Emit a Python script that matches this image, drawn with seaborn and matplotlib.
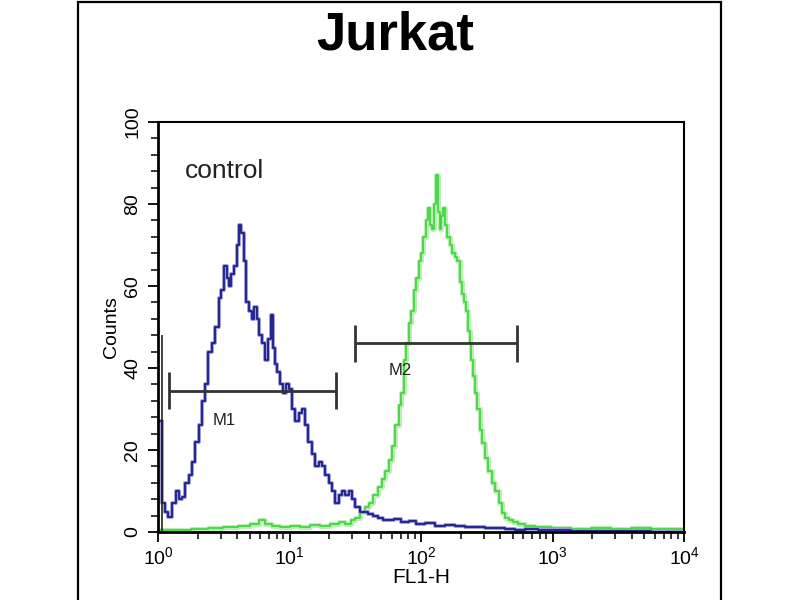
import numpy as np
import pandas as pd
import seaborn as sns
import matplotlib.pyplot as plt
from matplotlib.patches import Rectangle
from matplotlib.ticker import LogLocator, MultipleLocator

# pixel readings of the histogram, converted to FL1-H channel values below
ctrl_px = [160, 163, 166, 170, 174, 177, 180, 183, 187, 190, 193, 197, 200, 203, 206, 210,
           213, 217, 220, 222, 225, 228, 230, 232, 235, 238, 240, 242, 245, 247, 250, 253,
           255, 258, 260, 263, 266, 269, 272, 274, 276, 278, 281, 284, 287, 290, 293, 297,
           300, 303, 306, 310, 313, 317, 320, 323, 327, 330, 333, 337, 340, 343, 347, 350,
           353, 357, 362, 366, 370, 375, 380, 385, 390, 397, 405, 412, 420, 430, 440, 450,
           460, 470, 480, 490, 500, 510, 520, 530, 545, 560, 580, 600, 620, 640, 660, 684]
ctrl_counts = [27, 7, 5, 3.7, 7, 10, 8, 8.5, 12, 14, 17, 22, 26, 32, 36, 44,
               46, 50, 57, 59, 65, 62, 60, 63, 65, 70, 75, 73, 66, 56, 54, 52,
               55, 52, 48, 46, 42, 47, 53, 45, 41, 39, 36, 34, 36, 35, 30, 27,
               29, 30, 26, 22, 19, 16, 17, 16, 14, 12, 10, 7, 9, 10, 9, 10,
               8, 6, 5, 5, 4.5, 4, 3.5, 3, 3, 3.2, 2.5, 2.6, 2, 2.2, 1.5, 1.8,
               1.5, 1.2, 1.3, 1, 1, 0.8, 0.6, 0.8, 0.5, 0.4, 0.3, 0.3, 0.2, 0.2, 0.1, 0.1]

samp_px = [160, 180, 200, 215, 230, 245, 255, 262, 268, 275, 285, 295, 305, 315, 325, 335,
           342, 348, 353, 357, 362, 367, 370, 375, 380, 383, 387, 390, 393, 397, 400, 402,
           405, 407, 410, 412, 415, 417, 420, 422, 424, 427, 429, 431, 433, 435, 437, 439,
           440, 442, 443, 446, 448, 451, 453, 456, 458, 461, 463, 465, 467, 469, 470, 472,
           473, 476, 478, 481, 483, 486, 490, 493, 497, 500, 503, 507, 510, 515, 520, 530,
           540, 560, 580, 600, 620, 640, 660, 684]
samp_counts = [0.5, 0.5, 0.8, 1, 1.2, 1.5, 2, 3, 2, 1.5, 1.2, 1.5, 1.2, 1.8, 1.5, 2,
               2.5, 2, 3, 3.5, 5, 6, 7, 9, 11, 13, 15, 17.5, 21, 26, 31, 34,
               42, 46, 51, 54, 59, 62, 66, 68, 72, 76, 79, 75, 74, 80, 87, 78,
               74, 77, 79, 75, 72, 70, 68, 67, 66, 61, 58, 56, 54, 49, 46, 42,
               38, 34, 30, 25, 21.7, 18, 15, 12, 10, 7, 4.6, 3.5, 3, 2.5, 2, 1.5,
               1.3, 1, 0.8, 1, 0.8, 1, 0.8, 0.8]

first_channel = [1.07]
first_channel_count = [48]

gate_names = ["M1", "M2"]
gate_lo = [1.21, 31.5]
gate_hi = [22.6, 537]
gate_level = [34.5, 46]
label_level = [27.3, 39.5]
label_x = [3.2, 70]


def px_to_fl(px):
    return 10 ** ((np.array(px) - 158) / 131.5)


ctrl = pd.DataFrame({"FL1-H": px_to_fl(ctrl_px), "Counts": ctrl_counts})
samp = pd.DataFrame({"FL1-H": px_to_fl(samp_px), "Counts": samp_counts})

sns.set_style("ticks")
plt.rcParams['font.family'] = ['Liberation Sans', 'DejaVu Sans']
plt.rcParams['text.color'] = 'black'
plt.rcParams['axes.labelcolor'] = 'black'
plt.rcParams['xtick.color'] = 'black'
plt.rcParams['ytick.color'] = 'black'

fig = plt.figure(figsize=(8, 6), dpi=100)
fig.patches.append(Rectangle((78 / 800, -0.02), 643 / 800, 1.0 - 2 / 600 + 0.02,
                             transform=fig.transFigure, fill=False,
                             edgecolor='black', linewidth=1.6))
fig.text(0.494, 1 - 35 / 600, "Jurkat", ha='center', va='center',
         fontsize=38, fontweight='bold', color='black')

ax = fig.add_axes([158 / 800, 1 - 532 / 600, 526 / 800, 410 / 600])
ax.set_xscale('log')

# green sample histogram with a soft halo
sns.lineplot(data=samp, x="FL1-H", y="Counts", ax=ax, color="#b6efae",
             linewidth=3.5, drawstyle='steps-mid', estimator=None, sort=False)
sns.lineplot(data=samp, x="FL1-H", y="Counts", ax=ax, color="#3cd23c",
             linewidth=1.2, drawstyle='steps-mid', estimator=None, sort=False)
# blue control histogram
sns.lineplot(data=ctrl, x="FL1-H", y="Counts", ax=ax, color="#9a9ad8",
             linewidth=2.8, drawstyle='steps-mid', estimator=None, sort=False)
sns.lineplot(data=ctrl, x="FL1-H", y="Counts", ax=ax, color="#1c1c8a",
             linewidth=1.3, drawstyle='steps-mid', estimator=None, sort=False)
ax.vlines(first_channel, 0, first_channel_count, color="#222222", linewidth=1.2)

for name, lo, hi, lev, ly, lx in zip(gate_names, gate_lo, gate_hi, gate_level,
                                    label_level, label_x):
    ax.hlines(lev, lo, hi, color="#333333", linewidth=2)
    ax.vlines([lo, hi], lev - 4.6, lev + 4.6, color="#333333", linewidth=2)
    ax.text(lx, ly, name, ha='center', va='center', fontsize=12, color="#222222")

ax.text(1.6, 88, "control", ha='left', va='center', fontsize=19, color="#222222")

ax.set_xlim(1, 10000)
ax.set_ylim(0, 100)
ax.yaxis.set_major_locator(MultipleLocator(20))
ax.yaxis.set_minor_locator(MultipleLocator(4))
ax.xaxis.set_major_locator(LogLocator(base=10))
ax.xaxis.set_minor_locator(LogLocator(base=10, subs=np.arange(2, 10)))
ax.tick_params(axis='both', which='major', length=7, width=1.3, labelsize=14, color='black')
ax.tick_params(axis='both', which='minor', length=5, width=1.1, color='black')
for lab in ax.get_yticklabels():
    lab.set_rotation(90)
    lab.set_va('center')
ax.tick_params(axis='y', pad=5)
ax.set_xlabel("FL1-H", fontsize=15, labelpad=0)
ax.set_ylabel("Counts", fontsize=14, labelpad=3)
for side in ['left', 'bottom']:
    ax.spines[side].set_linewidth(2)
for side in ['top', 'right']:
    ax.spines[side].set_linewidth(1.5)
    ax.spines[side].set_visible(True)
    ax.spines[side].set_color('black')
ax.spines['left'].set_color('black')
ax.spines['bottom'].set_color('black')

fig.savefig("out.png", dpi=100)
